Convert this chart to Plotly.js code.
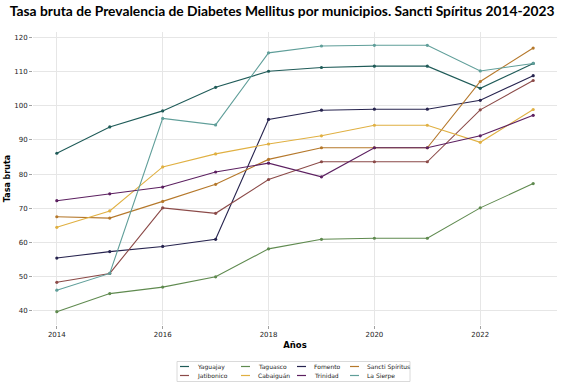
<!DOCTYPE html>
<html>
<head>
<meta charset="utf-8">
<script src="https://cdn.plot.ly/plotly-3.0.1.min.js"></script>
<style>html,body{margin:0;padding:0;background:#fff;}#chart{width:561px;height:385px;}</style>
</head>
<body>
<div id="chart"></div>
<script>
const years = [2014, 2015, 2016, 2017, 2018, 2019, 2020, 2021, 2022, 2023];

const yaguajay       = [86.1, 93.8, 98.5, 105.4, 110.1, 111.2, 111.6, 111.6, 105.1, 112.4];
const taguasco       = [39.7, 45.0, 46.9, 49.9, 58.1, 60.9, 61.2, 61.2, 70.1, 77.2];
const fomento        = [55.4, 57.3, 58.8, 60.9, 96.0, 98.7, 99.0, 99.0, 101.6, 108.8];
const sanctiSpiritus = [67.5, 67.1, 72.0, 77.0, 84.3, 87.7, 87.7, 87.7, 107.1, 116.9];
const jatibonico     = [48.3, 50.9, 70.1, 68.5, 78.4, 83.6, 83.6, 83.6, 98.8, 107.4];
const cabaiguan      = [64.4, 69.2, 82.1, 85.9, 88.8, 91.2, 94.3, 94.3, 89.3, 98.9];
const trinidad       = [72.2, 74.2, 76.2, 80.6, 83.2, 79.2, 87.7, 87.7, 91.2, 97.2];
const laSierpe       = [46.0, 50.9, 96.3, 94.4, 115.5, 117.5, 117.7, 117.7, 110.2, 112.4];

const seriesNames = ["Yaguajay", "Taguasco", "Fomento", "Sancti Spíritus",
                     "Jatibonico", "Cabaiguán", "Trinidad", "La Sierpe"];
const seriesValues = [yaguajay, taguasco, fomento, sanctiSpiritus,
                      jatibonico, cabaiguan, trinidad, laSierpe];
const seriesColors = ["#1f5b58", "#5f8a4f", "#27244f", "#b5782b",
                      "#8b4a48", "#e0b042", "#5c2060", "#5f9e99"];

const yTicks = [40, 50, 60, 70, 80, 90, 100, 110, 120];
const xTicks = [2014, 2016, 2018, 2020, 2022];

const traces = seriesNames.map((name, i) => ({
  type: 'scatter',
  mode: 'lines+markers',
  name: name,
  x: years,
  y: seriesValues[i],
  line: {color: seriesColors[i], width: 1.1},
  marker: {color: seriesColors[i], size: 3.2},
  showlegend: false
}));

// Custom compact legend (4 columns x 2 rows), built from the series arrays
const W = 561, H = 385;
const M = {l: 33, r: 4, t: 32, b: 60};
const pw = W - M.l - M.r, ph = H - M.t - M.b;
const px2x = p => (p - M.l) / pw;
const py2y = p => (H - M.b - p) / ph;
const colLineX = [180, 241, 297, 350];
const rowY = [366.5, 375.5];
const shapes = [{
  type: 'rect', xref: 'paper', yref: 'paper',
  x0: px2x(177), x1: px2x(410), y0: py2y(361.5), y1: py2y(381.5),
  line: {color: '#d0d0d0', width: 0.8}, fillcolor: '#ffffff', layer: 'above'
}];
const annotations = [];
seriesNames.forEach((name, i) => {
  const c = i % 4, r = Math.floor(i / 4);
  shapes.push({
    type: 'line', xref: 'paper', yref: 'paper',
    x0: px2x(colLineX[c]), x1: px2x(colLineX[c] + 9),
    y0: py2y(rowY[r]), y1: py2y(rowY[r]),
    line: {color: seriesColors[i], width: 1.2}, layer: 'above'
  });
  annotations.push({
    xref: 'paper', yref: 'paper', x: px2x(colLineX[c] + 15), y: py2y(rowY[r]),
    xanchor: 'left', yanchor: 'middle', showarrow: false, text: name,
    font: {family: 'DejaVu Sans', size: 6, color: '#222'}
  });
});

const layout = {
  width: W, height: H,
  margin: M,
  paper_bgcolor: '#ffffff', plot_bgcolor: '#ffffff',
  title: {
    text: 'Tasa bruta de Prevalencia de Diabetes Mellitus por municipios. Sancti Spíritus 2014-2023',
    font: {family: 'Lato', size: 13.8, color: '#000', weight: 'bold'},
    x: 0.503, xanchor: 'center', y: 0.972, yanchor: 'middle'
  },
  xaxis: {
    range: [2013.55, 2023.45],
    tickvals: xTicks, ticktext: xTicks.map(String),
    showgrid: true, gridcolor: '#e6e6e6', gridwidth: 1,
    zeroline: false, showline: false,
    ticks: 'outside', ticklen: 3, tickcolor: '#888', tickwidth: 0.8,
    tickfont: {family: 'DejaVu Sans', size: 7, color: '#222'},
    title: {text: 'Años', font: {family: 'DejaVu Sans', size: 8.5, color: '#000', weight: 'bold'}, standoff: 3}
  },
  yaxis: {
    range: [35.8, 121.6],
    tickvals: yTicks, ticktext: yTicks.map(String),
    showgrid: true, gridcolor: '#e6e6e6', gridwidth: 1,
    zeroline: false, showline: false,
    ticks: 'outside', ticklen: 3, tickcolor: '#888', tickwidth: 0.8,
    tickfont: {family: 'DejaVu Sans', size: 7, color: '#222'},
    title: {text: 'Tasa bruta', font: {family: 'DejaVu Sans', size: 8, color: '#000', weight: 'bold'}, standoff: 2}
  },
  shapes: shapes,
  annotations: annotations,
  showlegend: false
};

Plotly.newPlot('chart', traces, layout, {displayModeBar: false, staticPlot: true});
</script>
</body>
</html>
